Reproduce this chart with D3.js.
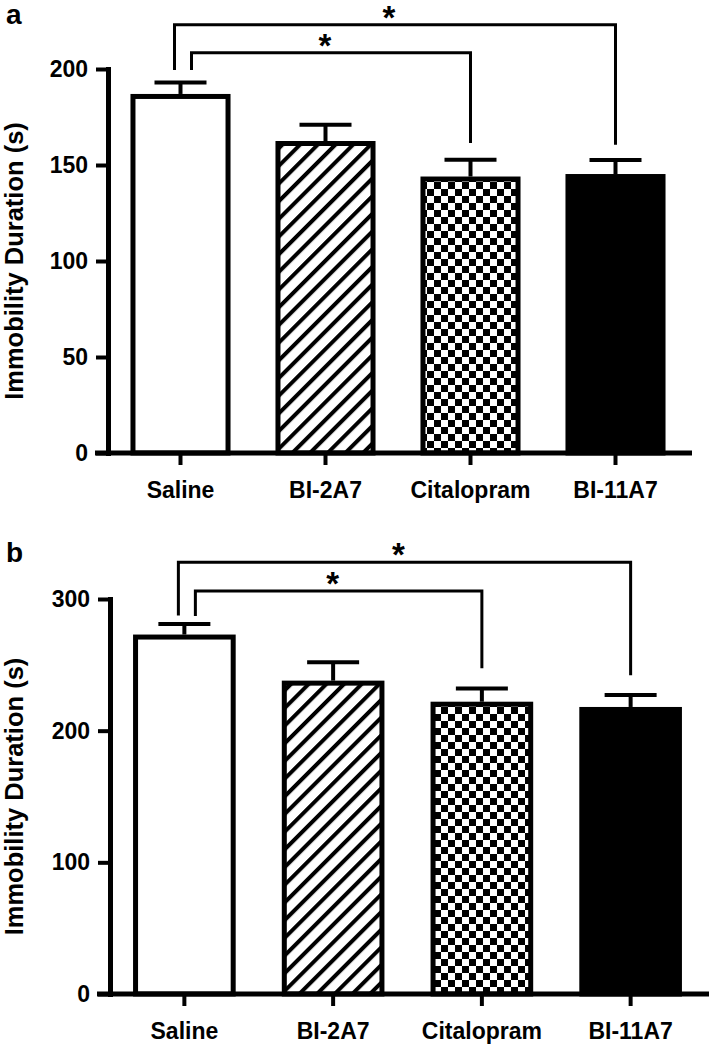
<!DOCTYPE html>
<html>
<head>
<meta charset="utf-8">
<script src="https://cdn.jsdelivr.net/npm/d3@7"></script>
<style>
  body { margin: 0; background: #fff; }
  svg { display: block; }
  text { font-family: "Liberation Sans", Arial, sans-serif; font-weight: bold; fill: #000; }
</style>
</head>
<body>
<script>
let width = 710;
let height = 1050;

// groups on the x axis
const groups = ["Saline", "BI-2A7", "Citalopram", "BI-11A7"];

// panel a: forced swim test
const meanA = [187, 162.5, 144, 145.3];
const semA = [6, 8.5, 8.7, 7.3];
const ticksA = [0, 50, 100, 150, 200];
// significance brackets: group indexes, height of bar, where the legs stop
const bracketsA = [
  { from: 0, to: 3, top: 223, leftEnd: 199.5, rightEnd: 160.5 },
  { from: 0, to: 2, top: 208.5, leftEnd: 199.5, rightEnd: 161.5 }
];

// panel b
const meanB = [273, 238, 222, 218];
const semB = [8, 14, 10, 9];
const ticksB = [0, 100, 200, 300];
const bracketsB = [
  { from: 0, to: 3, top: 328, leftEnd: 287.5, rightEnd: 242 },
  { from: 0, to: 2, top: 306, leftEnd: 287, rightEnd: 247.5 }
];

const fills = ["#fff", "url(#hatch)", "url(#checker)", "#000"];

let svg = d3.select("body")
  .append("svg")
  .attr("width", width)
  .attr("height", height);

// fill patterns
let defs = svg.append("defs");
let hatch = defs.append("pattern")
  .attr("id", "hatch")
  .attr("patternUnits", "userSpaceOnUse")
  .attr("width", 12.5)
  .attr("height", 12.5)
  .attr("patternTransform", "rotate(45)");
hatch.append("rect").attr("width", 12.5).attr("height", 12.5).attr("fill", "#fff");
hatch.append("line")
  .attr("x1", 0).attr("y1", 0).attr("x2", 0).attr("y2", 12.5)
  .attr("stroke", "#000").attr("stroke-width", 8);

let cell = 7;
let checker = defs.append("pattern")
  .attr("id", "checker")
  .attr("patternUnits", "userSpaceOnUse")
  .attr("width", cell * 2)
  .attr("height", cell * 2);
checker.append("rect").attr("width", cell * 2).attr("height", cell * 2).attr("fill", "#fff");
checker.append("rect").attr("width", cell).attr("height", cell).attr("fill", "#000");
checker.append("rect").attr("x", cell).attr("y", cell).attr("width", cell).attr("height", cell).attr("fill", "#000");

function drawPanel(letter, means, sems, ticks, brackets, xRange, yRange, letterY) {
  let g = svg.append("g");

  let scaleX = d3.scaleBand()
    .domain(groups)
    .range(xRange)
    .paddingInner(0.31)
    .paddingOuter(0.155);

  let scaleY = d3.scaleLinear()
    .domain([0, d3.max(ticks)])
    .range(yRange);

  let bw = scaleX.bandwidth();
  let data = groups.map((name, i) => ({ name: name, mean: means[i], sem: sems[i], fill: fills[i] }));

  // error bars (drawn before bars so the stem sits on top edge)
  g.selectAll(".err")
    .data(data)
    .join("line")
    .attr("x1", d => scaleX(d.name) + bw / 2)
    .attr("x2", d => scaleX(d.name) + bw / 2)
    .attr("y1", d => scaleY(d.mean))
    .attr("y2", d => scaleY(d.mean + d.sem))
    .attr("stroke", "#000")
    .attr("stroke-width", 4);
  g.selectAll(".cap")
    .data(data)
    .join("line")
    .attr("x1", d => scaleX(d.name) + bw / 2 - 26)
    .attr("x2", d => scaleX(d.name) + bw / 2 + 26)
    .attr("y1", d => scaleY(d.mean + d.sem))
    .attr("y2", d => scaleY(d.mean + d.sem))
    .attr("stroke", "#000")
    .attr("stroke-width", 4);

  // bars
  g.selectAll(".bar")
    .data(data)
    .join("rect")
    .attr("x", d => scaleX(d.name) + 2.5)
    .attr("width", bw - 5)
    .attr("y", d => scaleY(d.mean) + 2.5)
    .attr("height", d => scaleY(0) - scaleY(d.mean) - 2.5)
    .attr("fill", d => d.fill)
    .attr("stroke", "#000")
    .attr("stroke-width", 5);

  // y axis
  let axisY = d3.axisLeft(scaleY)
    .tickValues(ticks)
    .tickSize(12)
    .tickSizeOuter(0)
    .tickPadding(8)
    .tickFormat(d3.format("d"));
  let gy = g.append("g")
    .attr("transform", `translate(${xRange[0]}, 0)`)
    .call(axisY);
  gy.select(".domain").attr("stroke-width", 5).attr("stroke-linecap", "square");
  gy.selectAll(".tick line").attr("stroke-width", 4);
  gy.selectAll(".tick text").style("font-size", "23px").style("font-family", null);

  // x axis
  let axisX = d3.axisBottom(scaleX)
    .tickSize(12)
    .tickSizeOuter(0)
    .tickPadding(17);
  let gx = g.append("g")
    .attr("transform", `translate(0, ${scaleY(0)})`)
    .call(axisX);
  gx.select(".domain").remove();
  gx.selectAll(".tick line").attr("stroke-width", 4);
  gx.selectAll(".tick text").style("font-size", "23px").style("font-family", null);
  gx.append("line")
    .attr("x1", xRange[0] - 13)
    .attr("x2", xRange[1] + 4)
    .attr("stroke", "#000")
    .attr("stroke-width", 5);

  // y axis title
  g.append("text")
    .attr("transform", `translate(23, ${(yRange[0] + yRange[1]) / 2}) rotate(-90)`)
    .attr("text-anchor", "middle")
    .style("font-size", "25.5px")
    .text("Immobility Duration (s)");

  // panel letter
  g.append("text")
    .attr("x", 6)
    .attr("y", letterY)
    .style("font-size", "28px")
    .text(letter);

  // significance brackets
  brackets.forEach(b => {
    let x1 = scaleX(groups[b.from]) + bw / 2 + (b.to === 3 ? -6 : 11);
    let x2 = scaleX(groups[b.to]) + bw / 2;
    let path = d3.path();
    path.moveTo(x1, scaleY(b.leftEnd));
    path.lineTo(x1, scaleY(b.top));
    path.lineTo(x2, scaleY(b.top));
    path.lineTo(x2, scaleY(b.rightEnd));
    g.append("path")
      .attr("d", path.toString())
      .attr("fill", "none")
      .attr("stroke", "#000")
      .attr("stroke-width", 3);
    g.append("text")
      .attr("x", (x1 + x2) / 2 - 6)
      .attr("y", scaleY(b.top) + 4)
      .attr("text-anchor", "middle")
      .style("font-size", "33px")
      .text("*");
  });
}

drawPanel("a", meanA, semA, ticksA, bracketsA, [108, 688], [453, 69], 24);
drawPanel("b", meanB, semB, ticksB, bracketsB, [110, 705], [994, 599], 562);
</script>
</body>
</html>
